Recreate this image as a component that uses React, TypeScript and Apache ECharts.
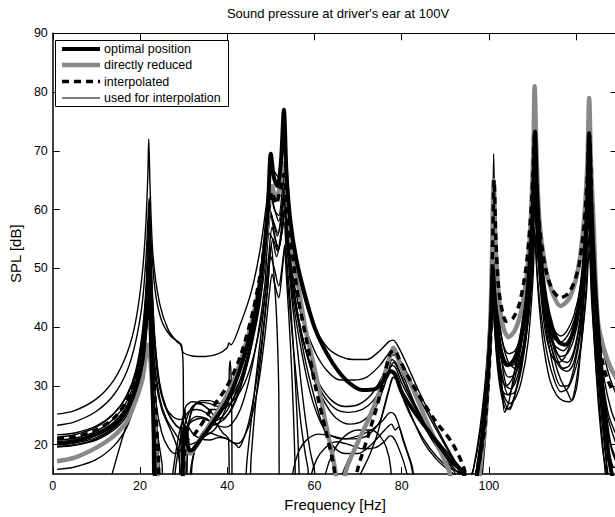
import React, { useEffect, useRef } from "react";
import * as echarts from "echarts";

const FONT = '"Liberation Sans", Arial, Helvetica, sans-serif';

const titleText = "Sound pressure at driver's ear at 100V";
const xName = "Frequency [Hz]";
const yName = "SPL [dB]";
const xTicks = [0, 20, 40, 60, 80, 100, 120];
const yTicks = [20, 30, 40, 50, 60, 70, 80, 90];
const legendNames = ["optimal position", "directly reduced", "interpolated", "used for interpolation"];

const optimalPosition = [
  [1,20.2],[5,20.6],[10,21.8],[14,23.5],[17,26],[19,29.5],[20.5,34],[21.3,40],[21.7,45],[22,48],[22.4,40],[23,26],[23.4,15],[23.7,8],
  [29.5,8],[29.9,20],[30.3,23],[30.8,21],[31.4,19],[32.2,19.2],[34,21],[36,23],[40,27.5],[43,33],[46,41],[48,50],[49.3,60],[50,69.5],[50.7,65.5],[51.5,64],[52.3,68],[53,77],[53.6,66],[54.5,58],[56,51],[58,45],[60,40],[62,36.7],[65,33],[68,30.5],[71,29.3],[74,29.5],[76,31],[77.5,32.5],[78.5,32],[80,29],[83,25.5],[87,21.5],[91,17.5],[94,15.3],[95,13.5],[96.5,13],[97.5,16],[98.8,23],[99.8,32],[100.5,42],[100.9,50],[101.3,45],[102,39],[103,35],[104.3,33.5],[105.8,34.5],[107.3,38],[108.7,45],[109.8,56],[110.3,66],[110.6,73.3],[111,64],[111.8,53],[113,45],[114.5,40],[116,37.5],[117.5,37],[119,38.5],[120.5,43],[121.8,51],[122.6,62],[123,73],[123.5,61],[124.3,48],[125.2,38],[126,30],[126.8,23],[127.5,18],[128.2,15],[129,13],
];

const directlyReduced = [
  [1,17.2],[5,17.8],[10,19.5],[14,21.5],[17,24],[19,27.5],[20.5,31],[21.3,35],[21.8,37],[22.2,36],[22.8,30],[23.5,22],[24.2,12],[24.6,8],
  [29.4,8],[29.8,14],[30.2,18],[30.8,19.5],[31.5,18.5],[33,20],[36,23.5],[40,28.5],[43,34],[46,42],[48,50],[49.5,60],[50.3,64],[51,62],[51.8,63],[52.6,66.5],[53.2,68],[53.8,62],[55,53],[56.5,46],[58,39.5],[60.3,32],[62.5,24],[64.8,15.5],[65.5,10],
  [66.5,10],[67.2,15.5],[70,20.5],[72.5,24.5],[74.7,28.5],[76.5,33],[77.5,35.5],[78.1,36.5],[78.8,35.5],[80,33],[82.3,30],[86,23.5],[90.9,15.5],[92,12],
  [97,12],[98,16],[99.3,25],[100.3,40],[100.8,55],[101.1,65],[101.5,55],[102.3,45],[103.3,40],[104.5,38.3],[106,39.5],[107.5,43],[108.7,49],[109.6,58],[110.2,70],[110.5,81],[110.9,70],[111.6,58],[113,50],[114.5,46],[116.4,43.6],[118.5,45],[120.5,50],[121.8,58],[122.6,68],[123,79],[123.4,68],[124,58],[125,41],[126.5,36],[128,33],[129.5,31],
];

const interpolated = [
  [1,21],[5,21.3],[10,22.5],[14,24.5],[17,27.5],[19,31],[20.5,36],[21.3,40],[21.8,43],[22.2,44],[22.8,36],[23.5,27],[24.2,18],[24.6,10],
  [29.4,8],[29.9,15],[30.3,19],[31,21],[32.7,22],[36.3,26],[40,30],[43,35],[46,43],[48,51],[49.5,60],[50.3,63],[51.2,61],[52.2,63.5],[53,66],[53.7,60],[55,52],[56.5,44],[58.4,37],[60.2,30],[62.5,22.7],[64.5,16],[65.3,10],
  [68.5,10],[69.8,15.5],[72.4,21.7],[75,28.3],[77.3,35.5],[78.4,36],[79.5,34.5],[82.3,30.5],[87.5,24.3],[91.4,20.5],[94.3,16],[95.2,12],
  [96,12],[97.5,16],[98.9,22],[100,32],[100.5,40.5],[100.9,55],[101.2,65],[101.6,55],[102.2,47],[103,43],[104,41],[105.5,41.5],[107,44],[108.5,50],[109.5,58],[110.1,66],[110.5,73],[110.9,65],[111.6,57],[113,50],[114.5,46.5],[116.4,45],[118.5,46],[120.5,50],[121.8,57],[122.6,66],[123,73],[123.4,66],[123.9,50],[124.6,42],[125.8,35],[127,31.5],[128.5,29],
];

const thin01 = [
  [1,25.2],[5,25.8],[10,27.8],[14,31],[17,35.5],[19,41],[20.5,49],[21.3,57],[21.8,66],[22,72],[22.3,64],[23,52],[24.5,44],[26.5,39.5],[28.5,37.5],[29.3,37],[29.6,36.3],[30,35.6],[32,35.1],[35,35],[38,35.5],[40,36.5],[40.4,37.3],[40.8,37],[43,40.5],[45.5,46],[47.5,53],[49,61],[50,67],[50.8,66.5],[51.7,65.5],[52.5,68.5],[53,71],[53.6,64],[54.5,57],[56,50],[58,44],[60,40],[63,36.5],[66,35],[69,34.5],[72,34.5],[75,36],[77,37.5],[78,37.8],[79,37],[81,34],[84,29],[88,23],[92,17.5],[94,15],[95.5,12],[97,14],[98.5,20],[99.8,30],[100.5,40],[100.9,55],[101.1,69.5],[101.4,56],[102,45],[103,38],[104.5,34],[106,33],[107.5,35.5],[109,43],[110,55],[110.5,70],[111,58],[112,47],[113.5,40],[115,37],[117,36],[119,38],[121,44],[122.3,55],[123,70],[123.6,56],[124.5,45],[126,37],[127.5,32],[129.5,28],
];

const thin02 = [
  [1,23.3],[5,23.9],[10,25.7],[14,28.5],[17,32.5],[19,37.5],[20.5,44],[21.3,51],[21.8,58],[22.1,62],[22.5,55],[23.5,46],[25,41],[27,38.5],[28.8,37.5],[29.5,37],[29.9,33],[30.1,8],
  [30.6,8],[31,22],[32,26],[34,27.5],[36,27.5],[38,27],[40,27.5],[42,29.5],[44,33],[46,39],[48,47],[49.3,56],[50,63],[50.8,60],[51.8,59],[52.6,63],[53.1,66],[53.7,58],[55,49],[57,42],[60,36],[63,32.5],[66,31],[69,31],[72,31.5],[75,33.5],[77,35.5],[78,36],[79,35.2],[81,32.5],[84,28],[88,22.5],[91,18.5],[94,14.5],[95.5,12],[97,14],[98.5,21],[99.7,31],[100.5,42],[101,55],[101.5,48],[102.2,40],[103,34],[104,30],[105,29.5],[106.5,31.5],[108,37],[109.3,47],[110.2,60],[110.6,66],[111.2,55],[112.5,45],[114,39],[115.5,35],[117,33],[118.5,33.5],[120,37],[121.5,44],[122.5,55],[123,65],[123.6,52],[124.5,42],[126,32],[127,25],[128,20],[129.5,17],
];

const thin03 = [
  [1,21.3],[5,21.7],[10,23],[14,25.3],[17,28.5],[19,32.5],[20.5,39],[21.4,47],[21.9,55],[22.2,52],[22.8,40],[23.6,31],[25,26],[27,22.5],[28.5,19.5],[29.3,15],[29.7,8],
  [30.3,8],[30.7,20],[31.5,25],[33,27],[35,26.5],[37,25],[39,24.5],[41,26],[43,29.5],[45,35],[47,43],[48.7,52],[49.7,60],[50.5,58],[51.5,55.5],[52.5,59],[53.1,62],[53.8,55],[55,47],[56.5,40],[58,34],[60,28],[62,23],[64,20],[67,18.5],[70,18.5],[73,20],[75.5,22],[77,23.2],[77.7,23.5],[78.5,22.5],[79.3,23],[80.2,21],[82,17],[84,12],
  [93,8],[95,13],[96.5,16],[98,22],[99.5,33],[100.4,45],[100.9,55],[101.4,46],[102,38],[103,30],[103.6,25.5],[104.5,27],[106,33],[107.5,40],[109,49],[110,60],[110.6,68],[111.1,58],[112,48],[113.5,40],[115,34.5],[116.5,31],[118,29],[119,27.5],[120.2,30],[121.2,38],[122.2,50],[123,62],[123.6,50],[124.5,38],[125.5,28],[126.5,20],[127.3,15],[128,10],
];

const thin04 = [
  [1,20.8],[5,21.1],[10,22.3],[14,24.4],[17,27.4],[19,31.4],[20.5,37],[21.3,43],[21.8,50],[22.1,54],[22.4,48],[22.8,30],[23.1,8],
  [28.7,8],[29.2,20],[29.7,24],[30.5,26.5],[32,27.3],[34,27],[36,26],[38.5,26],[40.5,26.8],[41.5,28],[43.5,31],[45.5,36.5],[47.5,44],[49,53],[50,59],[50.8,56],[51.7,53],[52.6,56.5],[53.1,60],[53.7,54],[55,45],[57,36],[59,29],[61,24.5],[63,22],[66,21],[69,21],[72,21.5],[75,24],[77,29],[78,31.5],[78.8,31],[80,28.5],[82,25],[85,21],[88,18],[91,16],[93.5,15.2],[94.5,14],[95.5,13],[96.5,16],[98,23],[99.3,32],[100.3,44],[100.8,52],[101.3,44],[102,37],[103,32],[104.5,28.5],[106,29],[107.5,33],[109,41],[110,52],[110.5,62],[111,55],[112,46],[113.5,38],[115,32.5],[116.5,30],[118,30],[119.5,33],[121,39],[122.2,50],[122.9,60],[123.5,50],[124.5,38],[125.5,30],[126.5,24],[127.5,19],[128.5,16],
];

const thin05 = [
  [1,19.6],[5,19.9],[10,20.8],[14,22.5],[17,25],[19,28.5],[20.5,33],[21.3,38],[21.8,43],[22.1,45],[22.5,40],[23.2,30],[24,22],[25,17],[25.6,12],
  [31,8],[31.5,15],[32.5,19],[34,21],[36,22],[38,21.5],[40,21],[42,20],[42.6,19.5],[43.5,20.5],[45,24],[46.5,30],[48,38],[49.3,47],[50,52],[50.8,50],[51.8,47],[52.7,51],[53.2,54],[53.8,48],[55,38],[56,30],[57,23],[58,18],[58.5,16],[59,12],
  [68,8],[70,14],[72.5,18],[74.5,22],[76,26.5],[77.3,30],[78.2,31.5],[79,31],[80.5,28],[82.5,24.5],[85,20.5],[88,17.5],[91,15.5],[94,14],[96,13],[97.5,17],[99,25],[100.2,37],[100.8,47],[101.3,40],[102,33],[103,28],[104,26],[105,26.5],[106.5,30],[108,36],[109.3,45],[110.2,56],[110.6,63],[111.1,54],[112,45],[113,39],[114.5,35],[116,34],[117.5,35],[119,38],[120.5,43],[121.8,52],[122.7,60],[123.1,66],[123.6,55],[124.5,43],[125.5,35],[126.5,29],[127.5,25],[129,22],
];

const thin06 = [
  [1,15.8],[5,16.2],[10,17.5],[14,19.8],[17,23],[19,27.5],[20.5,33],[21.3,39],[21.8,46],[22.1,50],[22.5,43],[23,33],[23.8,22],[24.5,15],[25,8],
  [26.5,8],[27.5,15],[28.5,20],[29.5,23.5],[31,25.5],[33,26],[35,25.5],[37,24],[39,22],[40.3,21],[40.6,8],
  [44.5,8],[45.5,18],[46.5,27],[48,37],[49.2,46],[50.1,54],[50.7,49],[51.3,42],[51.8,30],[52.1,8],
  [54,8],[55,15],[56.5,19],[58.5,21],[61,21.8],[64,21.5],[67,21],[70,21.5],[73,22.5],[75.5,24],[77.5,25.5],[78.5,25],[79.5,23],[81,19.5],[82.5,16],[83.5,10],
  [97.5,8],[98.5,15],[99.6,25],[100.4,38],[100.9,48],[101.4,40],[102.2,33],[103.2,29],[104.3,28.5],[105.5,30],[107,35],[108.5,42],[109.8,52],[110.5,64],[111,56],[112,47],[113.5,41],[115,38],[116.5,37.5],[118,38.5],[119.5,41],[121,46],[122.2,54],[123,63],[123.6,52],[124.5,40],[125.3,32],[126,26],[126.6,20],[127.1,15],[127.5,10],
];

const thin07 = [
  [11,8],[12.5,12],[13.6,15],[15.5,20],[17.5,25],[19.5,31.5],[20.7,38],[21.4,45],[21.9,56],[22.1,60],[22.5,52],[23.2,40],[24.3,31],[25.5,27],[27,24.5],[28.7,23],[29.5,22.5],[30,8],
  [30.3,8],[30.6,22],[31.5,24],[33,24.8],[35,24.5],[37,23.5],[39.5,23],[41,23.5],[43,26],[45,31],[47,38.5],[48.6,47],[49.6,56],[50.4,55],[51.3,52],[52.3,55],[53,58],[53.6,52],[54.5,44],[55.3,35],[56,25],[56.5,15],[56.8,8],
  [61,8],[62.5,15],[64.5,19],[67,21.5],[70,22.5],[73,22.5],[75,21.5],[76.5,19.5],[77.5,16],[78,8],
  [96,8],[97,15],[98.3,22],[99.5,31],[100.3,42],[100.8,50],[101.3,42],[102,35],[103,31],[104,30],[105.5,31.5],[107,36],[108.5,43],[109.7,53],[110.4,63],[111,55],[112,46],[113.5,39],[115,35],[116.5,33],[118,32.5],[119.5,34],[121,40],[122.2,49],[122.9,58],[123.5,48],[124.5,36],[125.5,28],[126.3,22],[127,18],[128,16.5],[129.5,16],
];

const thin08 = [
  [1,20.3],[5,20.6],[10,21.6],[14,23.5],[17,26.3],[19,30],[20.5,35.5],[21.3,41],[21.8,48],[22.15,57],[22.5,46],[23.2,35],[24.5,28],[26,24.5],[28,22],[29.5,20.5],[31,20],[33,20.5],[35,21.5],[37,22.5],[39,25],[40.2,27.5],[40.5,33],[40.7,34.3],[41,28],[41.3,8],
  [43.5,8],[44.5,17],[45.5,24],[47,34],[48.5,44],[49.5,52],[50.3,57],[51,55],[51.8,53.5],[52.6,57],[53.1,60],[53.7,54],[54.8,45],[56,37],[57,30],[58,24],[59,19],[60,15.5],[60.6,10],
  [64,8],[65.5,13],[67.5,17],[70,20.5],[72.5,24],[75,28],[76.8,32],[77.8,34.5],[78.6,34],[79.5,32.5],[81.5,29],[84,25.5],[87.5,21],[91,17.5],[94,15],[95,12],
  [96.5,12],[97.7,16],[99,24],[100.2,38],[100.8,50],[101.2,56],[101.6,48],[102.3,41],[103.3,37],[104.5,35.5],[106,36],[107.5,39],[109,46],[110,56],[110.5,67],[111,59],[112,50],[113.5,43],[115,39.5],[116.5,38.5],[118,39.5],[119.5,42],[121,47],[122.2,56],[122.9,66],[123.5,56],[124.3,46],[125.3,38],[126.5,31],[128,26],[129.5,23],
];

const thin09 = [
  [1,20],[5,20.3],[10,21.2],[14,23],[17,25.6],[19,29],[20.5,34],[21.3,39],[21.8,44],[22.05,48],[22.4,42],[23,30],[23.5,20],[23.8,8],
  [27,8],[28,15],[29,20],[30.5,24],[32,26.5],[34,27.2],[36,27],[38,26.5],[40,26.8],[42,28],[44,30.5],[46,35],[48,42],[49.5,50],[50.5,55],[51.5,53],[52.3,56],[53,62],[53.6,56],[54.5,49],[56,42],[58,36],[60,31],[62.5,27],[65,24.5],[68,23.5],[71,24],[74,26.5],[76,30],[77.3,33],[78.2,34],[79,33.2],[80.5,30.5],[83,26.5],[86,22],[89,18.5],[92,15.5],[93.5,13],
  [96,13],[97.3,16],[98.7,23],[99.8,33],[100.6,46],[101,58],[101.4,50],[102,42],[102.8,37],[104,34],[105.5,33.5],[107,36],[108.5,42],[109.6,51],[110.3,63],[110.7,70],[111.2,60],[112.2,49],[113.5,42],[115,37],[116.5,34.5],[118,34],[119.5,36],[121,42],[122.2,52],[122.9,62],[123.4,55],[124.2,44],[125,36],[126,29],[127,23.5],[128.2,19],[129.5,16.5],
];

const thin10 = [
  [1,21.7],[5,22],[10,23.2],[14,25.3],[17,28.3],[19,32.2],[20.5,38],[21.4,46],[21.9,54],[22.2,58],[22.6,50],[23.4,38],[24.5,30.5],[26,26.3],[28,23.5],[29.5,22.8],[30.5,23],[32,24],[34,24.5],[36.5,24],[38.5,24.5],[40.5,26.5],[42.5,30],[44.5,35],[46.5,41.5],[48,48],[49.3,56],[50.2,62],[50.9,60],[51.8,58],[52.6,61],[53.1,64],[53.7,57],[54.8,49],[56.5,41],[58.5,35],[61,30.5],[64,27.5],[67,26.5],[70,26.8],[73,28.5],[75.5,31.5],[77.2,34.5],[78.1,35.3],[79,34.5],[80.5,31.5],[83,27],[86,22.5],[89,19],[92,16],[94.5,14],[96,13],[97.5,15],[98.6,20],[99.7,28],[100.5,38],[100.9,45],[101.3,40],[102,34],[103,29],[104,26.5],[104.8,26],[105.8,28],[107,32],[108.5,38],[109.8,47],[110.4,57],[110.8,52],[111.5,44],[112.5,37],[114,31],[115.5,28.5],[117,27.5],[118.5,27.3],[119.3,28],[120.3,32],[121.5,39],[122.5,49],[123,56],[123.5,47],[124.3,36],[125,28],[125.7,22],[126.3,18],[127,15],[127.5,10],
];

const thin11 = [
  [1,19.7],[5,20],[10,21],[14,22.8],[17,25.5],[19,29],[20.5,34.5],[21.3,40.5],[21.85,49],[22.1,53],[22.4,47],[22.9,36],[23.7,27],[25,22],[26.5,19.5],[28,18.5],[29,18.8],[29.6,19.5],[30,8],
  [31.2,8],[32,17],[33.5,21],[35.5,23],[37.5,23.5],[39.5,24.5],[41.5,27],[43.5,31.5],[45.5,37.5],[47.2,45],[48.7,53],[49.8,60],[50.6,58],[51.6,56],[52.5,59.5],[53.1,63.5],[53.7,57],[54.6,50],[56,43],[57.5,37.5],[59.5,32.5],[62,28.5],[65,26],[68,25.5],[71,26],[73.5,27.5],[75.5,30],[77,32.5],[77.9,33.5],[78.7,33],[80,30.5],[82.5,27],[85.5,23.5],[89,20],[92.5,17],[95.5,14.5],[96.7,14],[97.8,16.5],[99,22],[100,31],[100.7,43],[101.1,52],[101.5,45],[102.2,38],[103.2,33.5],[104.5,31.5],[106,32],[107.5,35],[109,42],[110.1,54],[110.6,62],[111.1,55],[112,47],[113.5,40.5],[115,36.5],[116.5,35],[118,35.5],[119.5,38],[121,43.5],[122.3,53],[123,63],[123.6,53],[124.5,42],[125.5,34],[126.5,28],[127.5,24],[129,20.5],
];

const thin12 = [
  [1,20.5],[5,20.8],[10,21.9],[14,23.8],[17,26.7],[19,30.5],[20.5,36],[21.3,42],[21.8,51],[22.1,56],[22.5,49],[23.2,38],[24.3,30.5],[25.8,26.5],[27.5,24.8],[29,24.3],[30,24.5],[30.3,26],[30.6,24],[32,22],[34,21],[36,20.8],[38,21.2],[40,21],[41.2,20.4],[42.5,20.2],[44,21.5],[45.7,25],[47.3,31],[48.7,39],[49.7,46],[50.3,49],[51,47],[51.8,45],[52.6,49.5],[53.1,53],[53.7,47],[54.5,37],[55.2,25],[55.6,15],[55.8,8],
  [58,8],[59,14],[60.5,17.5],[62.5,19.5],[65,20.5],[68,20],[71,19.3],[74,19.5],[76,20.5],[77.3,21.5],[78,21.3],[79,20],[80.5,17],[81.5,14],[82.5,8],
  [96.5,8],[97.5,14],[98.8,21],[99.8,29],[100.6,40],[101,47],[101.5,40],[102.3,33],[103.4,28.5],[104.7,27],[106,27.8],[107.5,31],[109,37.5],[110.1,48],[110.6,56],[111.1,49],[112,42],[113.5,35],[115,31],[116.5,29],[118,29.5],[119.5,32],[121,36.5],[122.3,45],[123,53],[123.6,44],[124.5,34],[125.3,27],[126,21],[126.6,16],[127,12],
];

const usedForInterpolation = [thin01, thin02, thin03, thin04, thin05, thin06, thin07, thin08, thin09, thin10, thin11, thin12];

export default function App() {
  const ref = useRef<HTMLDivElement>(null);
  useEffect(() => {
    if (!ref.current) return;
    const chart = echarts.init(ref.current, null, { renderer: "svg" });
    const X_MAX = 129.5;
    const axisCommon = {
      type: "value" as const,
      splitLine: { show: false },
    };
    const thinSeries = usedForInterpolation.map((d) => ({
      type: "line",
      name: legendNames[3],
      data: d,
      showSymbol: false,
      symbol: "none",
      smooth: 0.3,
      silent: true,
      lineStyle: { color: "#000", width: 1.4 },
      z: 2,
    }));
    const legendY = [49, 65, 81.5, 98];
    const legendGraphics: any[] = [
      { type: "rect", shape: { x: 55.5, y: 40.5, width: 173, height: 66 }, style: { fill: "#fff", stroke: "#000", lineWidth: 1 }, z: 100 },
    ];
    const legendStyles = [
      { stroke: "#000", lineWidth: 4 },
      { stroke: "#888", lineWidth: 4.5 },
      { stroke: "#000", lineWidth: 3.5, lineDash: [7, 5] },
      { stroke: "#000", lineWidth: 1.2 },
    ];
    legendNames.forEach((n, i) => {
      legendGraphics.push({ type: "line", shape: { x1: 62, y1: legendY[i], x2: 100, y2: legendY[i] }, style: { ...legendStyles[i], lineCap: "butt" }, z: 101 });
      legendGraphics.push({ type: "text", x: 104, y: legendY[i], style: { text: n, fill: "#000", font: `12.5px ${FONT}`, textVerticalAlign: "middle", verticalAlign: "middle" }, z: 101 });
    });
    chart.setOption({
      animation: false,
      backgroundColor: "#fff",
      title: {
        text: titleText,
        left: 333,
        top: 2,
        textAlign: "center",
        textStyle: { fontFamily: FONT, fontSize: 13, fontWeight: "normal", color: "#000" },
      },
      grid: { left: 49, top: 33.3, right: 630 - (49 + X_MAX * 4.39), bottom: 33.7, containLabel: false },
      xAxis: [
        {
          ...axisCommon,
          position: "bottom",
          min: 0,
          max: X_MAX,
          interval: 20,
          name: xName,
          nameLocation: "middle",
          nameGap: 18,
          nameTextStyle: { fontFamily: FONT, fontSize: 15, color: "#000" },
          axisLine: { show: true, onZero: false, lineStyle: { color: "#000", width: 1.5 } },
          axisTick: { show: true, inside: true, length: 7, customValues: xTicks, lineStyle: { color: "#000", width: 1 } },
          axisLabel: { show: true, customValues: xTicks, margin: 5, fontFamily: FONT, fontSize: 12.5, color: "#000", showMaxLabel: false },
        },
        {
          ...axisCommon,
          position: "top",
          min: 0,
          max: X_MAX,
          interval: 20,
          axisLine: { show: true, onZero: false, lineStyle: { color: "#000", width: 1 } },
          axisTick: { show: true, inside: true, length: 7, customValues: xTicks, lineStyle: { color: "#000", width: 1 } },
          axisLabel: { show: false },
        },
      ],
      yAxis: [
        {
          ...axisCommon,
          position: "left",
          min: 15,
          max: 90,
          name: yName,
          nameLocation: "middle",
          nameGap: 23,
          nameTextStyle: { fontFamily: FONT, fontSize: 15, color: "#000" },
          axisLine: { show: true, onZero: false, lineStyle: { color: "#000", width: 1.5 } },
          axisTick: { show: true, inside: true, length: 7, customValues: yTicks, lineStyle: { color: "#000", width: 1 } },
          axisLabel: { show: true, customValues: yTicks, margin: 5, fontFamily: FONT, fontSize: 12.5, color: "#000" },
        },
        {
          ...axisCommon,
          position: "right",
          min: 15,
          max: 90,
          axisLine: { show: true, onZero: false, lineStyle: { color: "#000", width: 1 } },
          axisTick: { show: true, inside: true, length: 7, customValues: yTicks, lineStyle: { color: "#000", width: 1 } },
          axisLabel: { show: false },
        },
      ],
      graphic: legendGraphics,
      series: [
        ...thinSeries,
        {
          type: "line",
          name: legendNames[1],
          data: directlyReduced,
          showSymbol: false,
          symbol: "none",
          smooth: 0.3,
          silent: true,
          lineStyle: { color: "#888", width: 4.5 },
          z: 3,
        },
        {
          type: "line",
          name: legendNames[0],
          data: optimalPosition,
          showSymbol: false,
          symbol: "none",
          smooth: 0.3,
          silent: true,
          lineStyle: { color: "#000", width: 4 },
          z: 4,
        },
        {
          type: "line",
          name: legendNames[2],
          data: interpolated,
          showSymbol: false,
          symbol: "none",
          smooth: 0.3,
          silent: true,
          lineStyle: { color: "#000", width: 3.5, type: [7, 5], cap: "butt" },
          z: 5,
        },
      ],
    });
    return () => chart.dispose();
  }, []);
  return (
    <div style={{ position: "fixed", left: 0, top: 0, width: 615, height: 517, overflow: "hidden", background: "#fff" }}>
      <div ref={ref} style={{ width: 630, height: 517 }} />
    </div>
  );
}
